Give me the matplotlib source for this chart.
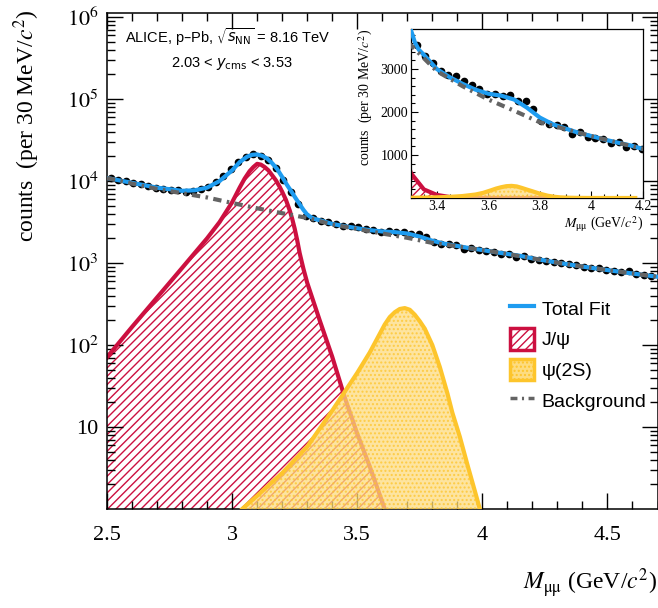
import matplotlib.pyplot as plt
import numpy as np
from matplotlib.lines import Line2D
from matplotlib.patches import Patch
from matplotlib.ticker import MultipleLocator, LogLocator, NullFormatter

plt.rcParams['font.family'] = 'Liberation Serif'
plt.rcParams['mathtext.fontset'] = 'stix'
plt.rcParams['hatch.linewidth'] = 1.0

BLUE = '#1e9cf0'
RED = '#cc1040'
YEL = '#fdc52c'
YEL_FILL = '#fddc80'
GREY = '#646464'
BKG_DASH = (0, (2, 1.3, 0.6, 1.3))

# data, 30 MeV bins starting at 2.5 GeV/c2
BIN_LO = 2.5
BIN_W = 0.03
counts = [10800, 10300, 9900, 9400, 9100, 8600, 8300, 8000, 7800, 7700,
          7400, 7600, 7900, 8500, 9700, 11600, 14100, 16900, 19600, 21200,
          20400, 18300, 14600, 10300, 7300, 5300, 3780, 3560, 3300, 3140,
          2960, 2850, 2830, 2720, 2620, 2540, 2410, 2430, 2380, 2390,
          2250, 2260, 2080, 1800, 1720, 1690, 1660, 1490, 1530, 1430,
          1400, 1370, 1280, 1300, 1180, 1220, 1130, 1090, 1050, 1030,
          990, 960, 950, 900, 880, 860, 830, 800, 780, 790,
          740, 720, 690]
mass_pts = BIN_LO + BIN_W * (np.arange(len(counts)) + 0.5)

# total fit
fit_mass = [2.50, 2.60, 2.70, 2.80, 2.85, 2.90, 2.95, 3.00, 3.03, 3.06,
            3.08, 3.10, 3.12, 3.14, 3.16, 3.18, 3.20, 3.22, 3.24, 3.255,
            3.27, 3.285, 3.30, 3.315, 3.33, 3.35, 3.40, 3.45, 3.50, 3.55,
            3.60, 3.65, 3.70, 3.75, 3.80, 3.85, 3.90, 3.95, 4.00, 4.05,
            4.10, 4.15, 4.20, 4.30, 4.40, 4.50, 4.60, 4.70]
fit_total = [10900, 9500, 8300, 7600, 7700, 8300, 10000, 13500, 17000, 19800,
             20900, 21100, 20300, 18800, 16500, 14000, 11200, 8900, 7200, 6100,
             5200, 4450, 3900, 3620, 3450, 3330, 3000, 2810, 2655, 2520,
             2425, 2380, 2290, 2100, 1870, 1715, 1615, 1515, 1440, 1360,
             1290, 1225, 1140, 1010, 905, 820, 745, 680]

# background
bkg_mass = [2.5, 2.6, 2.7, 2.8, 2.9, 3.0, 3.1, 3.2, 3.3, 3.4, 3.5, 3.6,
            3.7, 3.8, 3.9, 4.0, 4.1, 4.2, 4.3, 4.4, 4.5, 4.6, 4.7]
bkg = [10900, 9300, 8000, 7100, 6300, 5400, 4650, 4050, 3550, 2950, 2600, 2290,
       2030, 1760, 1600, 1440, 1290, 1140, 1010, 905, 820, 745, 680]

# J/psi signal
jpsi_mass = [2.50, 2.60, 2.70, 2.80, 2.85, 2.90, 2.95, 3.00, 3.03, 3.05,
             3.07, 3.085, 3.10, 3.115, 3.13, 3.145, 3.16, 3.175, 3.19, 3.20,
             3.215, 3.23, 3.24, 3.25, 3.26, 3.27, 3.285, 3.30, 3.35, 3.40,
             3.45, 3.50, 3.55, 3.61, 3.70, 3.85]
jpsi = [71, 166, 380, 870, 1320, 2000, 3160, 5500, 8300, 10700,
        13200, 14800, 16200, 15850, 14800, 13500, 11750, 10200, 8500, 7400,
        5900, 4400, 3470, 2630, 1900, 1320, 850, 575, 200, 72,
        23, 8.3, 3.3, 1.0, 0.25, 0.03]

# psi(2S) signal
psi2s_mass = [2.90, 3.04, 3.10, 3.20, 3.30, 3.40, 3.45, 3.50, 3.55, 3.58,
              3.61, 3.63, 3.65, 3.67, 3.69, 3.71, 3.73, 3.75, 3.77, 3.80,
              3.83, 3.86, 3.88, 3.91, 3.94, 3.97, 3.99, 4.08, 4.17]
psi2s = [0.35, 1.0, 1.45, 2.75, 5.75, 15.8, 26.9, 45.7, 81, 120,
         178, 219, 251, 275, 282, 269, 234, 195, 158, 100,
         54, 26, 15, 7.6, 3.5, 1.66, 1.0, 0.15, 0.02]


def draw(a, ymin):
  a.fill_between(jpsi_mass, jpsi, ymin, facecolor='none', edgecolor=RED,
                 hatch='////', lw=0, zorder=1)
  a.plot(jpsi_mass, jpsi, color=RED, lw=3, zorder=2)
  a.fill_between(psi2s_mass, psi2s, ymin, facecolor=YEL_FILL, edgecolor=YEL,
                 hatch='....', lw=0, alpha=0.75, zorder=3)
  a.plot(psi2s_mass, psi2s, color=YEL, lw=3, zorder=4)
  a.plot(mass_pts, counts, 'o', color='black', ms=4.5, zorder=5)
  a.plot(fit_mass, fit_total, color=BLUE, lw=3, zorder=6)
  a.plot(bkg_mass, bkg, color=GREY, lw=3, ls=BKG_DASH, zorder=7)


fig = plt.figure(figsize=(6.58, 6.08), dpi=100)

# main panel
ax = fig.add_axes([107/658, 1 - 509/608, 550.5/658, 496/608])
draw(ax, 1)
ax.set_yscale('log')
ax.set_xlim(2.5, 4.7)
ax.set_ylim(1, 1.12e6)
ax.set_xticks([2.5, 3, 3.5, 4, 4.5], labels=['2.5', '3', '3.5', '4', '4.5'])
ax.xaxis.set_minor_locator(MultipleLocator(0.1))
ax.set_yticks([10, 1e2, 1e3, 1e4, 1e5, 1e6],
              labels=['10', '$10^{2}$', '$10^{3}$', '$10^{4}$', '$10^{5}$', '$10^{6}$'])
ax.yaxis.set_minor_locator(LogLocator(subs=np.arange(2, 10)))
ax.yaxis.set_minor_formatter(NullFormatter())
ax.tick_params(which='both', direction='in', top=True, right=True, width=1)
ax.tick_params(which='major', length=11.5, labelsize=16)
ax.tick_params(which='minor', length=5.8)
ax.tick_params(axis='x', which='major', pad=12)
ax.tick_params(axis='y', which='major', pad=6)
for s in ax.spines.values():
  s.set_linewidth(1.1)

fig.text(27/658, 1 - 10/608, 'counts  (per 30 MeV/$c^{2}$)', rotation=90,
         ha='center', va='top', fontsize=17)
fig.text(657/658, 1 - 583/608, r'$M_{\mathrm{μμ}}$ (GeV/$c^{2}$)',
         ha='right', va='center', fontsize=17)

fig.text(125/658, 1 - 37/608, r'ALICE, p–Pb, $\sqrt{s_{\mathrm{NN}}}$ = 8.16 TeV',
         family='Liberation Sans', fontsize=10.5, math_fontfamily='dejavusans', va='center')
fig.text(232/658, 1 - 63/608, r'2.03 < $y_{\mathrm{cms}}$ < 3.53', ha='center',
         family='Liberation Sans', fontsize=10.5, math_fontfamily='dejavusans', va='center')

handles = [Line2D([], [], color=BLUE, lw=3),
           Patch(facecolor='white', edgecolor=RED, hatch='////', lw=2.5),
           Patch(facecolor=YEL_FILL, edgecolor=YEL, hatch='....', lw=2.5),
           Line2D([], [], color=GREY, lw=2.5, ls=BKG_DASH)]
labels = ['Total Fit', 'J/ψ', 'ψ(2S)', 'Background']
fig.legend(handles, labels, loc='upper left', bbox_to_anchor=(492/658, 1 - 280/608),
           frameon=False, prop={'family': 'Liberation Sans', 'size': 14},
           handlelength=1.25, handleheight=1.35, labelspacing=0.45, handletextpad=0.4)

# inset
axi = fig.add_axes([411/658, 1 - 198/608, 232/658, 169/608])
draw(axi, 0)
axi.set_xlim(3.3, 4.2)
axi.set_ylim(0, 3930)
axi.set_xticks([3.4, 3.6, 3.8, 4.0, 4.2], labels=['3.4', '3.6', '3.8', '4', '4.2'])
axi.xaxis.set_minor_locator(MultipleLocator(0.05))
axi.set_yticks([1000, 2000, 3000])
axi.yaxis.set_minor_locator(MultipleLocator(200))
axi.tick_params(which='both', direction='in', width=0.8)
axi.tick_params(which='major', length=5, labelsize=10)
axi.tick_params(axis='x', which='major', pad=1.5)
axi.tick_params(axis='y', which='major', pad=2)
axi.tick_params(which='minor', length=2.8)
for s in axi.spines.values():
  s.set_linewidth(0.9)

fig.text(366/658, 1 - 29/608, 'counts  (per 30 MeV/$c^{2}$)', rotation=90,
         ha='center', va='top', fontsize=10)
fig.text(643/658, 1 - 224/608, r'$M_{\mathrm{μμ}}$ (GeV/$c^{2}$)',
         ha='right', va='center', fontsize=10)

fig.savefig('out.png', dpi=100)
